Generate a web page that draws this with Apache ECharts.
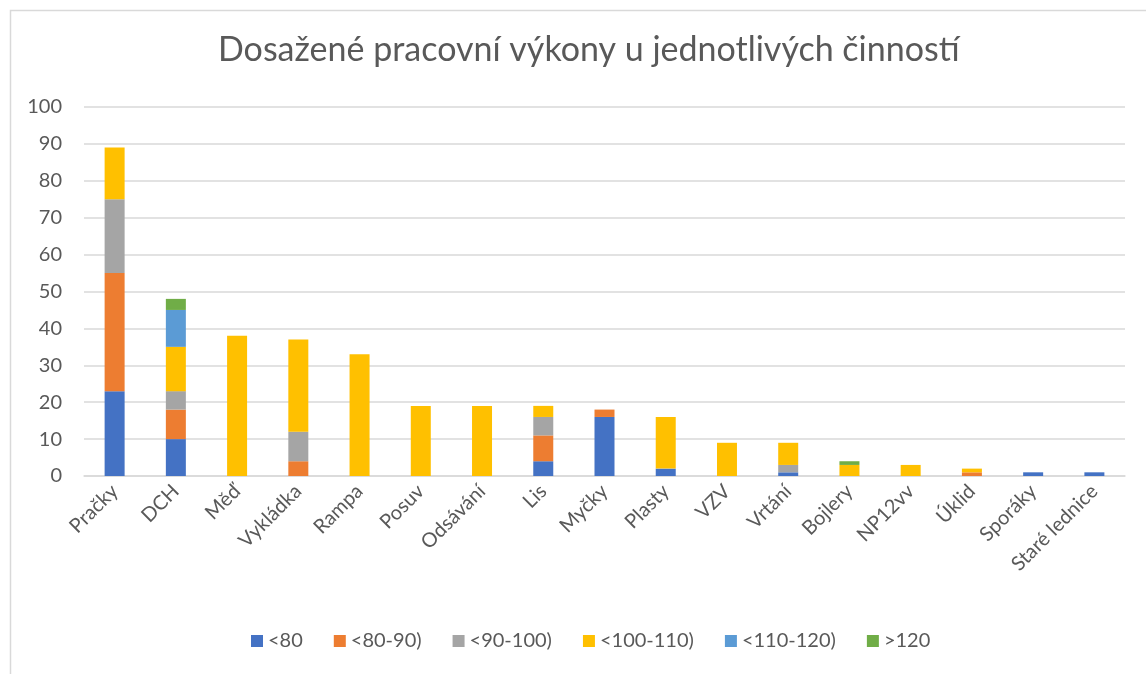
<!DOCTYPE html>
<html>
<head>
<meta charset="utf-8">
<script src="https://cdn.jsdelivr.net/npm/echarts@6/dist/echarts.min.js"></script>
<style>
  html, body { margin: 0; padding: 0; background: #fff; }
  #chart { width: 1146px; height: 674px; }
</style>
</head>
<body>
<div id="chart"></div>
<script>
const categories = ['Pračky', 'DCH', 'Měď', 'Vykládka', 'Rampa', 'Posuv', 'Odsávání', 'Lis', 'Myčky', 'Plasty', 'VZV', 'Vrtání', 'Bojlery', 'NP12vv', 'Úklid', 'Sporáky', 'Staré lednice']
const under80 = [23, 10, 0, 0, 0, 0, 0, 4, 16, 2, 0, 1, 0, 0, 0, 1, 1]
const from80to90 = [32, 8, 0, 4, 0, 0, 0, 7, 2, 0, 0, 0, 0, 0, 1, 0, 0]
const from90to100 = [20, 5, 0, 8, 0, 0, 0, 5, 0, 0, 0, 2, 0, 0, 0, 0, 0]
const from100to110 = [14, 12, 38, 25, 33, 19, 19, 3, 0, 14, 9, 6, 3, 3, 1, 0, 0]
const from110to120 = [0, 10, 0, 0, 0, 0, 0, 0, 0, 0, 0, 0, 0, 0, 0, 0, 0]
const over120 = [0, 3, 0, 0, 0, 0, 0, 0, 0, 0, 0, 0, 1, 0, 0, 0, 0]

const seriesDefs = [
  { name: '<80', data: under80, color: '#4472C4' },
  { name: '<80-90)', data: from80to90, color: '#ED7D31' },
  { name: '<90-100)', data: from90to100, color: '#A5A5A5' },
  { name: '<100-110)', data: from100to110, color: '#FFC000' },
  { name: '<110-120)', data: from110to120, color: '#5B9BD5' },
  { name: '>120', data: over120, color: '#70AD47' }
]

const font = 'Lato, "Open Sans", sans-serif'
const chart = echarts.init(document.getElementById('chart'), null, { renderer: 'canvas' })

const option = {
  animation: false,
  textStyle: { fontFamily: font },
  // chart frame, cut off on the right and bottom like the original
  graphic: [{
    type: 'rect',
    left: 8,
    top: 8,
    shape: { width: 1160, height: 690 },
    style: { fill: 'none', stroke: '#d9d9d9', lineWidth: 1.5 },
    silent: true
  }],
  title: {
    text: 'Dosažené pracovní výkony u jednotlivých činností',
    left: 213,
    top: 28,
    textStyle: { fontFamily: font, fontSize: 34, fontWeight: 'normal', color: '#595959' }
  },
  legend: {
    bottom: 18,
    left: 246,
    itemWidth: 12,
    itemHeight: 12,
    itemGap: 31,
    icon: 'rect',
    textStyle: { fontFamily: font, fontSize: 20, color: '#595959' }
  },
  grid: { left: 84, right: 21, top: 107, bottom: 198, containLabel: false },
  xAxis: {
    type: 'category',
    data: categories,
    axisTick: { show: false },
    axisLine: { lineStyle: { color: '#d9d9d9', width: 1.5 } },
    axisLabel: {
      rotate: 45,
      interval: 0,
      margin: 12,
      fontFamily: font,
      fontSize: 20,
      color: '#595959'
    }
  },
  yAxis: {
    type: 'value',
    min: 0,
    max: 100,
    interval: 10,
    axisLine: { show: false },
    axisTick: { show: false },
    splitLine: { lineStyle: { color: '#d9d9d9', width: 1.5 } },
    axisLabel: { fontFamily: font, fontSize: 20, color: '#595959', margin: 22 }
  },
  series: seriesDefs.map(s => ({
    name: s.name,
    type: 'bar',
    stack: 'total',
    barWidth: 20,
    data: s.data,
    itemStyle: { color: s.color }
  }))
}

chart.setOption(option)
</script>
</body>
</html>
